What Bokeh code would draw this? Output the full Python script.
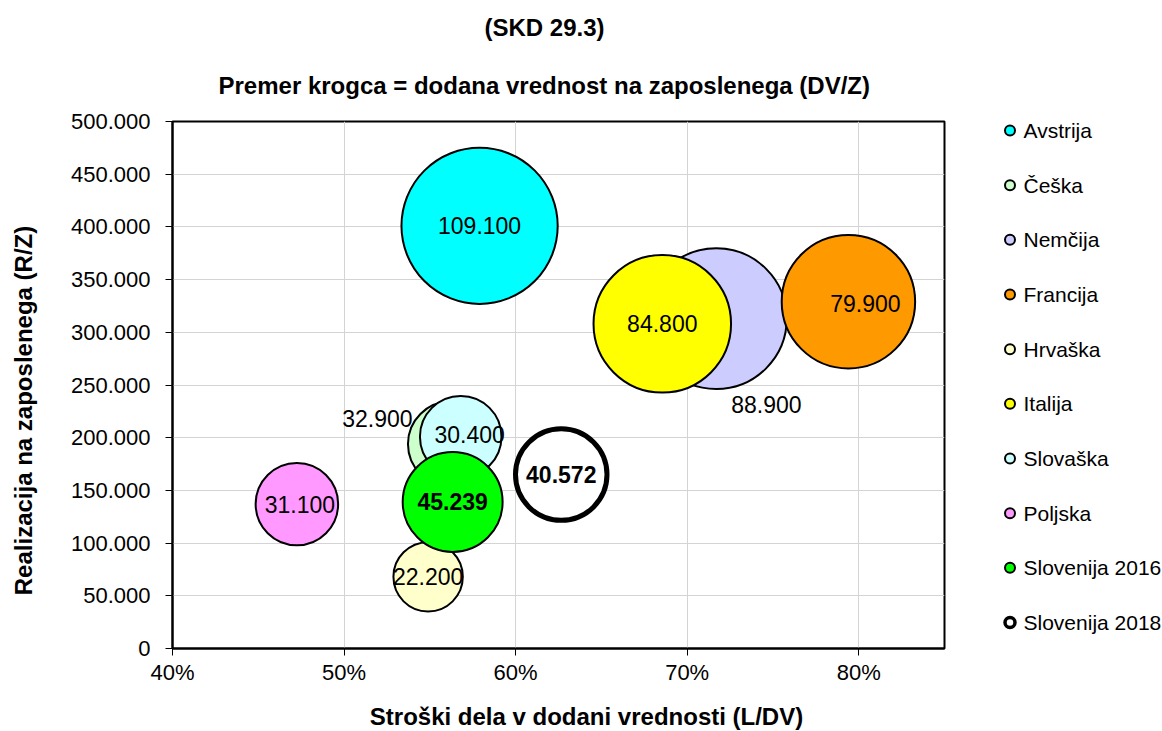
import math
from bokeh.plotting import figure
from bokeh.layouts import row, column
from bokeh.models import (ColumnDataSource, FixedTicker, NumeralTickFormatter,
                          Range1d, CustomJSTickFormatter, Title)
from bokeh.core.properties import value
from bokeh.embed import file_html
from bokeh.resources import INLINE

# ---------------- data ----------------
countries = ["Avstrija", "Češka", "Nemčija", "Francija", "Hrvaška", "Italija",
             "Slovaška", "Poljska", "Slovenija 2016", "Slovenija 2018"]
# Stroški dela v dodani vrednosti (L/DV)
labor_cost_share = [0.579, 0.562, 0.717, 0.794, 0.549, 0.6855, 0.568, 0.4725, 0.5633, 0.6266]
# Realizacija na zaposlenega (R/Z)
revenue_per_employee = [401000, 194000, 313000, 329000, 68000, 308000, 201000, 137000, 139000, 165000]
# Dodana vrednost na zaposlenega (DV/Z) -> bubble size
value_added_per_employee = [109100, 32900, 88900, 79900, 22200, 84800, 30400, 31100, 45239, 40572]

x_ticks = [0.4, 0.5, 0.6, 0.7, 0.8]
y_ticks = [0, 50000, 100000, 150000, 200000, 250000, 300000, 350000, 400000, 450000, 500000]

title_text = "(SKD 29.3)"
subtitle_text = "Premer krogca = dodana vrednost na zaposlenega (DV/Z)"
x_title = "Stroški dela v dodani vrednosti (L/DV)"
y_title = "Realizacija na zaposlenega (R/Z)"

# ---------------- styles ----------------
fill_colors = ["#00FFFF", "#CCFFCC", "#CCCCFF", "#FF9900", "#FFFFCC", "#FFFF00",
               "#CCFFFF", "#FF99FF", "#00FF00", "#FFFFFF"]
line_widths = [2, 2, 2, 2, 2, 2, 2, 2, 2, 5]
legend_line_widths = [2, 2, 2, 2, 2, 2, 2, 2, 2, 3.5]
label_styles = ["normal"] * 8 + ["bold", "bold"]
label_dx = [0, -73, 50, 17, 0, 0, 9, 3, 0, 0]
label_dy = [0, -26, 86, 2, 0, 0, -2, 0, 0, 0]
FONT = "Liberation Sans"
K = 15.15  # px of outer diameter per sqrt(thousand EUR)

# ---------------- layout geometry (page pixels) ----------------
W, H = 1162, 731
LEFT_W = 56            # strip holding the vertical axis title
MAIN_RIGHT = 948       # main figure ends here; legend strip follows
ROW_H = 700            # height of the upper row; x-axis title strip below
FL, FR, FT, FB = 172, 944, 121, 648  # plot frame

common = dict(output_backend="svg", toolbar_location=None)

# ---------------- main chart ----------------
p = figure(width=MAIN_RIGHT - LEFT_W, height=ROW_H,
           x_range=Range1d(0.40, 0.85), y_range=Range1d(0, 500000), title=None,
           min_border_left=FL - LEFT_W, min_border_right=MAIN_RIGHT - FR,
           min_border_top=FT, min_border_bottom=ROW_H - FB, **common)
p.outline_line_color = "black"
p.outline_line_width = 2
p.background_fill_color = "white"
p.border_fill_color = "white"

p.xaxis.ticker = FixedTicker(ticks=x_ticks)
p.yaxis.ticker = FixedTicker(ticks=y_ticks)
p.xaxis.formatter = NumeralTickFormatter(format="0%")
p.yaxis.formatter = CustomJSTickFormatter(code="""
    if (tick == 0) return '0';
    return Math.round(tick).toString().replace(/\\B(?=(\\d{3})+(?!\\d))/g, '.');
""")
for ax in (p.xaxis, p.yaxis):
    ax.axis_line_color = "black"
    ax.axis_line_width = 2
    ax.major_tick_line_color = "black"
    ax.major_tick_line_width = 1
    ax.major_tick_in = 0
    ax.major_tick_out = 7
    ax.minor_tick_line_color = None
    ax.major_label_text_font = FONT
    ax.major_label_text_font_size = "22px"
    ax.major_label_text_color = "black"
p.xaxis.major_label_standoff = 4
p.yaxis.major_label_standoff = 15

p.xgrid.ticker = FixedTicker(ticks=x_ticks)
p.ygrid.ticker = FixedTicker(ticks=y_ticks)
for g in (p.xgrid, p.ygrid):
    g.grid_line_color = "#D4D4D4"
    g.grid_line_width = 1

for i, name in enumerate(countries):
    src = ColumnDataSource(dict(x=[labor_cost_share[i]], y=[revenue_per_employee[i]],
                                v=[value_added_per_employee[i]], name=[name]))
    size = K * math.sqrt(value_added_per_employee[i] / 1000.0) - line_widths[i]
    p.scatter(x="x", y="y", source=src, size=size, fill_color=fill_colors[i],
              line_color="black", line_width=line_widths[i])

lab_src = ColumnDataSource(dict(
    x=labor_cost_share, y=revenue_per_employee,
    text=[f"{v:,}".replace(",", ".") for v in value_added_per_employee],
    dx=label_dx, dy=label_dy, style=label_styles))
p.text(x="x", y="y", text="text", source=lab_src, x_offset="dx", y_offset="dy",
       text_align="center", text_baseline="middle", text_font=value(FONT),
       text_font_size="23px", text_font_style="style", text_color="black")

def make_title(text, offset, standoff):
    return Title(text=text, align="left", offset=offset, standoff=standoff,
                 vertical_align="bottom", text_font=FONT, text_font_size="24px",
                 text_font_style="bold", text_color="black")

p.add_layout(make_title(subtitle_text, 46, 46), "above")
p.add_layout(make_title(title_text, 312, 12), "above")

# ---------------- side strips ----------------
# In a row, Bokeh aligns the strips' frames with the main frame (FT..FB vertically),
# so their y ranges are set to map page pixels one-to-one.
def strip(width, height, x0, y_top, y_bottom):
    f = figure(width=width, height=height, x_range=Range1d(x0, x0 + width),
               y_range=Range1d(y_bottom, y_top), x_axis_type=None, y_axis_type=None,
               min_border=0, outline_line_color=None, **common)
    f.background_fill_color = "white"
    f.border_fill_color = "white"
    f.grid.visible = False
    return f

# vertical axis title
left = strip(LEFT_W, ROW_H, 0, FT, FB)
left.text(x=[23], y=[410], text=[y_title], angle=math.pi / 2, text_align="center",
          text_baseline="middle", text_font=value(FONT), text_font_size="24px",
          text_font_style="bold", text_color="black")

# legend
leg = strip(W - MAIN_RIGHT, ROW_H, MAIN_RIGHT, FT, FB)
row_y = [130 + 54.67 * i for i in range(len(countries))]
leg_src = ColumnDataSource(dict(y=row_y, name=countries, fill=fill_colors,
                                lw=legend_line_widths))
leg.scatter(x=1009.5, y="y", source=leg_src, size=10, fill_color="fill",
            line_color="black", line_width="lw")
leg.text(x=1023, y="y", text="name", source=leg_src, text_align="left",
         text_baseline="middle", text_font=value(FONT), text_font_size="21px",
         text_color="black")

# horizontal axis title
bottom = strip(W, H - ROW_H, 0, ROW_H, H)
bottom.text(x=[586], y=[716], text=[x_title], text_align="center", text_baseline="middle",
            text_font=value(FONT), text_font_size="24px", text_font_style="bold",
            text_color="black")

layout = column(row(left, p, leg, spacing=0), bottom, spacing=0)
open("out.html", "w").write(file_html(layout, INLINE))
